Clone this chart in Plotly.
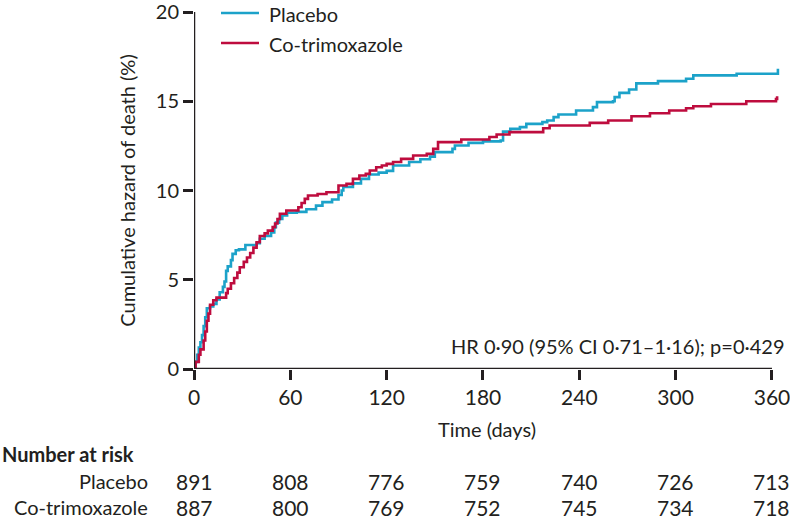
import plotly.graph_objects as go

# ---- data ----
placebo_days = [0, 1, 2, 3, 4, 5, 6, 7, 8, 10, 12, 14, 16, 18, 19, 20, 21, 23, 24, 26, 28, 32, 39, 41, 44, 48, 50, 51, 53, 55, 58, 64, 70, 76, 80, 86, 90, 92, 93, 99, 104, 109, 115, 120, 124, 134, 141, 147, 150, 161, 162.5, 171, 180, 191, 192.5, 197, 203, 207, 217, 220, 224, 227, 238, 248.5, 251, 261, 262, 265, 271, 275.5, 289, 306.5, 311, 338, 363.7]
placebo_haz = [0.0, 0.4, 0.8, 1.2, 1.5, 1.9, 2.4, 2.9, 3.4, 3.5, 3.65, 3.9, 4.3, 4.6, 4.9, 5.5, 5.75, 6.1, 6.45, 6.65, 6.7, 6.95, 7.05, 7.3, 7.45, 7.65, 7.95, 8.2, 8.4, 8.6, 8.75, 8.8, 8.95, 9.15, 9.35, 9.5, 9.75, 10.0, 10.2, 10.4, 10.65, 10.9, 11.0, 11.1, 11.4, 11.6, 11.75, 11.9, 12.15, 12.33, 12.52, 12.67, 12.75, 12.8, 13.3, 13.45, 13.55, 13.73, 13.83, 13.92, 14.11, 14.26, 14.48, 14.67, 14.95, 15.0, 15.23, 15.47, 15.66, 16.0, 16.13, 16.26, 16.45, 16.54, 16.82]

ctx_days = [0, 1, 3, 4, 6, 7, 8, 9, 10, 12, 14, 20, 21, 23, 25, 27, 28.5, 31, 33, 35, 37, 39, 41, 44, 46, 49, 50.5, 52, 53.5, 57.5, 65, 67, 69, 71, 77, 82.5, 90, 95, 99, 103, 107, 109.5, 113.5, 117, 120, 124, 129, 136.5, 145, 149, 152, 166.5, 184, 188.5, 196.5, 217.5, 221.5, 246.5, 258, 272.5, 284, 296, 306.5, 311, 322, 344, 362.5, 363.2]
ctx_haz = [0.0, 0.4, 0.8, 1.1, 1.6, 2.1, 2.7, 3.1, 3.6, 3.85, 4.0, 4.25, 4.5, 4.8, 5.1, 5.4, 5.7, 6.0, 6.25, 6.5, 6.8, 7.1, 7.45, 7.6, 7.75, 7.95, 8.15, 8.4, 8.7, 8.88, 9.06, 9.3, 9.53, 9.72, 9.8, 9.9, 10.28, 10.37, 10.65, 10.84, 10.93, 11.12, 11.3, 11.4, 11.49, 11.6, 11.77, 11.96, 12.05, 12.33, 12.71, 12.86, 13.0, 13.14, 13.27, 13.49, 13.64, 13.79, 13.92, 14.16, 14.33, 14.48, 14.61, 14.72, 14.85, 15.0, 15.13, 15.28]

tick_days = [0, 60, 120, 180, 240, 300, 360]
risk_placebo = [891, 808, 776, 759, 740, 726, 713]
risk_ctx = [887, 800, 769, 752, 745, 734, 718]
y_ticks = [0, 5, 10, 15, 20]
series_names = ["Placebo", "Co-trimoxazole"]

BLUE = "#1CA2C9"
RED = "#BE0C3E"
INK = "#231F20"
FONT = "Lato"
FS = 20

# layout geometry (pixels)
W, H = 790, 519
ML, MR, MT, MB = 194, 10, 12, 150
PW = W - ML - MR
PH = H - MT - MB


def px_x(px):
    return (px - ML) / PW


def px_y(py):
    return (H - MB - py) / PH


fig = go.Figure()
for name, xs, ys, col in [(series_names[0], placebo_days, placebo_haz, BLUE),
                          (series_names[1], ctx_days, ctx_haz, RED)]:
    fig.add_trace(go.Scatter(x=xs, y=ys, mode="lines", line_shape="hv",
                             line=dict(color=col, width=2.6), name=name, showlegend=False))

# axis lines as shapes (x-axis line stops at 360)
fig.add_shape(type="line", xref="x", yref="y", x0=0, x1=360, y0=0, y1=0,
              line=dict(color=INK, width=2.5), layer="above")
fig.add_shape(type="line", xref="x", yref="y", x0=0, x1=0, y0=0, y1=20,
              line=dict(color=INK, width=2.5), layer="above")

# legend (drawn manually so it can sit at the very top)
for name, col, py in [(series_names[0], BLUE, 13), (series_names[1], RED, 43)]:
    fig.add_shape(type="line", xref="paper", yref="paper", x0=px_x(221), x1=px_x(259),
                  y0=px_y(py), y1=px_y(py), line=dict(color=col, width=2.6))
    fig.add_annotation(text=name, xref="paper", yref="paper", x=px_x(267), y=px_y(py + 1),
                       xanchor="left", yanchor="middle", showarrow=False,
                       font=dict(size=FS, color=INK, family=FONT))

# HR annotation
fig.add_annotation(text="HR 0·90 (95% CI 0·71–1·16); p=0·429", xref="paper", yref="paper",
                   x=px_x(787), y=px_y(346), xanchor="right", yanchor="middle", showarrow=False,
                   font=dict(size=FS, color=INK, family=FONT))

# number at risk table
fig.add_annotation(text="<b>Number at risk</b>", xref="paper", yref="paper", x=px_x(0), y=px_y(454),
                   xanchor="left", yanchor="middle", showarrow=False,
                   font=dict(size=FS, color=INK, family=FONT))
for label, vals, py in [(series_names[0], risk_placebo, 481), (series_names[1], risk_ctx, 507)]:
    fig.add_annotation(text=label, xref="paper", yref="paper", x=px_x(150), y=px_y(py),
                       xanchor="right", yanchor="middle", showarrow=False,
                       font=dict(size=FS, color=INK, family=FONT))
    for d, v in zip(tick_days, vals):
        fig.add_annotation(text=str(v), xref="x", yref="paper", x=d, y=px_y(py),
                           xanchor="center", yanchor="middle", showarrow=False,
                           font=dict(size=21, color=INK, family=FONT))

fig.update_layout(
    width=W, height=H,
    margin=dict(l=ML, r=MR, t=MT, b=MB),
    paper_bgcolor="white", plot_bgcolor="white",
    font=dict(family=FONT, size=FS, color=INK),
    showlegend=False,
    xaxis=dict(range=[0, 365], tickvals=tick_days, ticks="outside", ticklen=10, tickwidth=2.5,
               tickcolor=INK, showline=False, showgrid=False, zeroline=False, automargin=False,
               ticklabeloverflow="allow",
               title=dict(text="Time (days)", standoff=14, font=dict(size=FS)),
               tickfont=dict(size=21)),
    yaxis=dict(range=[0, 20], tickvals=y_ticks, ticks="outside", ticklen=10, tickwidth=2.5,
               tickcolor=INK, showline=False, showgrid=False, zeroline=False, automargin=False,
               ticklabeloverflow="allow",
               title=dict(text="Cumulative hazard of death (%)", standoff=14, font=dict(size=FS)),
               tickfont=dict(size=20)),
)

fig.write_html("out.html", config={"displayModeBar": False},
               post_script="document.body.style.margin='0';document.body.style.padding='0';")
